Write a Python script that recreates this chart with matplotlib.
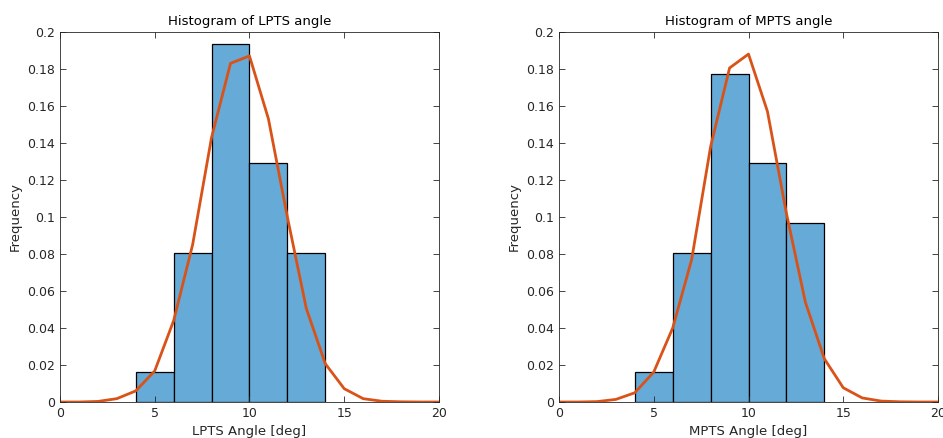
import matplotlib
matplotlib.use('Agg')
import matplotlib.pyplot as plt

# Histogram bins (deg) and normalized heights
bin_edges = [4, 6, 8, 10, 12, 14]
lpts_freq = [0.0161, 0.0806, 0.1935, 0.1290, 0.0806]
mpts_freq = [0.0161, 0.0806, 0.1774, 0.1290, 0.0968]

# Fitted curve, sampled at integer angles
curve_x = list(range(0, 21))
lpts_curve = [0.0, 0.0, 0.0003, 0.0018, 0.006, 0.0168, 0.044, 0.085, 0.143, 0.183,
              0.187, 0.153, 0.100, 0.0505, 0.0207, 0.0072, 0.0018, 0.0004, 0.0001, 0.0, 0.0]
mpts_curve = [0.0, 0.0, 0.0002, 0.0014, 0.005, 0.0162, 0.040, 0.077, 0.138, 0.1805,
              0.188, 0.157, 0.102, 0.054, 0.0234, 0.0077, 0.0022, 0.0005, 0.0001, 0.0, 0.0]

panels = [
    ('Histogram of LPTS angle', 'LPTS Angle [deg]', lpts_freq, lpts_curve),
    ('Histogram of MPTS angle', 'MPTS Angle [deg]', mpts_freq, mpts_curve),
]

bar_color = '#66AAD7'
line_color = '#D95319'
text_color = '#262626'

plt.rcParams['font.family'] = 'DejaVu Sans'

fig = plt.figure(figsize=(9.43, 4.38), dpi=100)
lefts = [0.0636, 0.5928]

for left, (title, xlabel, freq, curve) in zip(lefts, panels):
    ax = fig.add_axes([left, 0.0822, 0.4019, 0.845])
    widths = [bin_edges[i + 1] - bin_edges[i] for i in range(len(freq))]
    ax.bar(bin_edges[:-1], freq, width=widths, align='edge',
           color=bar_color, edgecolor='black', linewidth=0.9)
    ax.plot(curve_x, curve, color=line_color, linewidth=2)

    ax.set_xlim(0, 20)
    ax.set_ylim(0, 0.2)
    ax.set_xticks([0, 5, 10, 15, 20])
    yt = [i * 0.02 for i in range(11)]
    ax.set_yticks(yt)
    ax.set_yticklabels(['0'] + ['%g' % round(v, 2) for v in yt[1:]])
    ax.tick_params(direction='in', top=True, right=True, length=4,
                   colors=text_color, labelsize=9, width=0.6)
    for sp in ax.spines.values():
        sp.set_color(text_color)
        sp.set_linewidth(0.6)

    ax.set_title(title, fontsize=9.5, color='black', pad=5)
    ax.set_xlabel(xlabel, fontsize=9.5, color=text_color, labelpad=4)
    ax.set_ylabel('Frequency', fontsize=9.5, color=text_color, labelpad=4)

plt.savefig('out.png', dpi=100)
